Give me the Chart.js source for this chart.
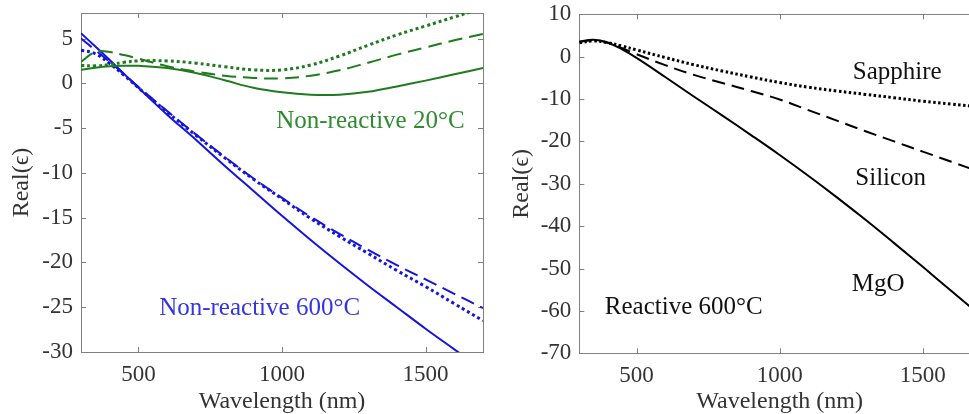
<!DOCTYPE html>
<html><head><meta charset="utf-8">
<script src="https://cdn.jsdelivr.net/npm/chart.js@4"></script>
<style>
html,body{margin:0;padding:0;background:#fff;overflow:hidden;width:969px;height:414px;position:relative}
#w1{position:absolute;left:0;top:0;width:490px;height:414px}
#w2{position:absolute;left:490px;top:0;width:510px;height:414px}
</style></head><body>
<div id="w1"><canvas id="c1"></canvas></div>
<div id="w2"><canvas id="c2"></canvas></div>
<script>
// ---- data ----
const wavelengths = [300,350,400,450,500,600,700,800,900,1000,1100,1200,1300,1400,1500,1600,1700];
// left panel: Non-reactive 20°C (green)
const nr20Solid  = [1.5,1.75,1.9,1.95,1.95,1.7,1.15,0.35,-0.5,-1.0,-1.27,-1.27,-0.95,-0.35,0.3,1.0,1.7];
const nr20Dashed = [2.4,3.5,3.5,3.15,2.75,1.9,1.3,0.85,0.6,0.55,0.85,1.45,2.3,3.2,4.0,4.8,5.5];
const nr20Dotted = [2.0,1.95,2.1,2.35,2.5,2.5,2.25,1.85,1.5,1.5,2.05,3.05,4.25,5.4,6.4,7.4,8.4];
// left panel: Non-reactive 600°C (blue)
const nr600Solid  = [5.6,4.1,2.6,1.05,-0.5,-3.5,-6.3,-9.2,-12.0,-14.8,-17.5,-20.1,-22.6,-25.0,-27.4,-29.7,-32.0];
const nr600Dashed = [5.0,3.7,2.4,1.0,-0.4,-3.1,-5.7,-8.2,-10.6,-12.8,-14.9,-16.8,-18.6,-20.3,-21.9,-23.5,-25.1];
const nr600Dotted = [3.7,3.3,2.2,0.9,-0.5,-3.2,-5.8,-8.3,-10.7,-12.9,-15.1,-17.1,-19.0,-20.9,-22.7,-24.6,-26.5];
// right panel: Reactive 600°C (black)
const mgo      = [3.5,4.0,3.3,1.7,-0.3,-4.8,-9.4,-13.9,-18.5,-23.2,-28.1,-33.2,-38.5,-44.0,-49.6,-55.3,-61.0];
const silicon  = [3.5,3.9,3.3,2.0,0.6,-2.0,-4.3,-6.2,-8.1,-10.1,-12.6,-15.1,-17.6,-20.0,-22.4,-24.8,-27.2];
const sapphire = [3.3,3.7,3.3,2.5,1.6,-0.2,-1.9,-3.4,-4.8,-6.1,-7.2,-8.1,-8.9,-9.7,-10.5,-11.2,-11.9];
// ticks
const xTicks = [500,1000,1500];
const yTicksLeft = [-30,-25,-20,-15,-10,-5,0,5];
const yTicksRight = [-70,-60,-50,-40,-30,-20,-10,0,10];
// annotation texts
const leftLabels = ['Non-reactive 20°C','Non-reactive 600°C'];
const leftLabelAt = [[1308,-5.0],[922,-25.9]];
const rightLabels = ['Sapphire','Silicon','MgO','Reactive 600°C'];
const rightLabelAt = [[1411,-5.3],[1388,-30.3],[1344,-55.2],[665,-60.8]];

// ---- styling ----
const GREEN = '#1e7b1e', BLUE = '#1414dc', BLACK = '#000000';
const FONT = '"Liberation Serif","Times New Roman",serif';
const AXIS = '#808080', TXT = '#333333';

function ds(label, vals, color, dash, width){
  return {label, data: wavelengths.map((w,i)=>({x:w,y:vals[i]})), borderColor:color,
    borderWidth:width, borderDash:dash, pointRadius:0, fill:false,
    tension:0.4, clip:0};
}

const boxTicks = {
  id:'boxTicks',
  beforeDatasetsDraw(chart){
    const {ctx, chartArea:a, scales:{x,y}} = chart;
    ctx.save();
    ctx.strokeStyle = AXIS; ctx.lineWidth = 1;
    ctx.strokeRect(Math.round(a.left)+0.5, Math.round(a.top)+0.5, Math.round(a.right-a.left), Math.round(a.bottom-a.top));
    const L = 5;
    ctx.beginPath();
    x.ticks.forEach(t=>{const p=Math.round(x.getPixelForValue(t.value))+0.5;
      ctx.moveTo(p,a.bottom); ctx.lineTo(p,a.bottom-L); ctx.moveTo(p,a.top); ctx.lineTo(p,a.top+L);});
    y.ticks.forEach(t=>{const p=Math.round(y.getPixelForValue(t.value))+0.5;
      ctx.moveTo(a.left,p); ctx.lineTo(a.left+L,p); ctx.moveTo(a.right,p); ctx.lineTo(a.right-L,p);});
    ctx.stroke(); ctx.restore();
  }
};
const labelsPlugin = {
  id:'labelsPlugin',
  afterDatasetsDraw(chart, args, opts){
    const {ctx, scales:{x,y}} = chart;
    ctx.save();
    ctx.font = opts.size+'px '+FONT; ctx.textAlign='center'; ctx.textBaseline='alphabetic';
    opts.texts.forEach((t,i)=>{
      ctx.fillStyle = opts.colors[i];
      ctx.fillText(t, x.getPixelForValue(opts.at[i][0]), y.getPixelForValue(opts.at[i][1]));
    });
    ctx.restore();
  }
};

function noPad(s){ s.paddingTop = 0; s.paddingBottom = 0; s.paddingLeft = 0; s.paddingRight = 0; }

function makeChart(id, datasets, yMin, yMax, yTicks, yWidth, xHeight, pad, yTitlePad, labelOpts){
  return new Chart(document.getElementById(id), {
    type:'line',
    data:{datasets},
    plugins:[boxTicks, labelsPlugin],
    options:{
      responsive:true, maintainAspectRatio:false, animation:false, devicePixelRatio:1,
      layout:{padding:pad},
      plugins:{legend:{display:false}, tooltip:{enabled:false}, labelsPlugin:labelOpts},
      scales:{
        x:{type:'linear', min:300, max:1700,
          afterBuildTicks(s){ s.ticks = xTicks.map(v=>({value:v})); },
          afterFit(s){ s.height = xHeight; noPad(s); },
          grid:{display:false, drawTicks:false}, border:{display:false},
          ticks:{padding:11, color:TXT, font:{family:FONT, size:23, lineHeight:1}, callback:v=>String(v), maxRotation:0},
          title:{display:true, text:'Wavelength (nm)', color:TXT, font:{family:FONT, size:24, lineHeight:1}, padding:{top:0,bottom:0}}
        },
        y:{type:'linear', min:yMin, max:yMax,
          afterBuildTicks(s){ s.ticks = yTicks.map(v=>({value:v})); },
          afterFit(s){ s.width = yWidth; noPad(s); },
          grid:{display:false, drawTicks:false}, border:{display:false},
          ticks:{padding:8, color:TXT, font:{family:FONT, size:23, lineHeight:1}, callback:v=>String(v)},
          title:{display:true, text:'Real(ϵ)', color:TXT, font:{family:FONT, size:24, lineHeight:1}, padding:{top:yTitlePad,bottom:0}}
        }
      }
    }
  });
}

makeChart('c1', [
  ds('NR20 solid', nr20Solid, GREEN, [], 2),
  ds('NR20 dashed', nr20Dashed, GREEN, [14,7], 2),
  ds('NR20 dotted', nr20Dotted, GREEN, [3,3], 3),
  ds('NR600 solid', nr600Solid, BLUE, [], 2),
  ds('NR600 dashed', nr600Dashed, BLUE, [14,7], 2),
  ds('NR600 dotted', nr600Dotted, BLUE, [3,3], 3)
], -30, 7.85, yTicksLeft, 81, 62, {top:13,right:7,left:0,bottom:0}, 10,
  {texts:leftLabels, at:leftLabelAt, colors:['#2e8b2e','#3535e0'], size:25});

makeChart('c2', [
  ds('MgO', mgo, BLACK, [], 2),
  ds('Silicon', silicon, BLACK, [13,7], 2),
  ds('Sapphire', sapphire, BLACK, [2.5,2.5], 3)
], -70, 10, yTicksRight, 89.3, 60.7, {top:14.3,right:20,left:0,bottom:0}, 20,
  {texts:rightLabels, at:rightLabelAt, colors:['#111','#111','#111','#111'], size:25});
</script>
</body></html>
